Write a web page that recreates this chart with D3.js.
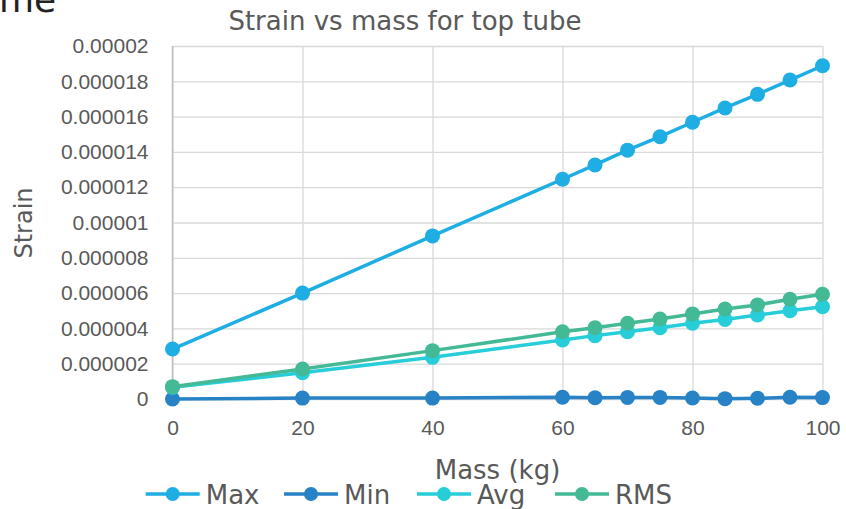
<!DOCTYPE html>
<html>
<head>
<meta charset="utf-8">
<script src="https://cdn.jsdelivr.net/npm/d3@7"></script>
<style>
  body { margin: 0; background: #fff; }
  svg { display: block; font-family: "DejaVu Sans", sans-serif; }
</style>
</head>
<body>
<div id="chart"></div>
<script>
// values
const mass = [0, 20, 40, 60, 65, 70, 75, 80, 85, 90, 95, 100];
const maxStrain = [2.83e-6, 6.0e-6, 9.24e-6, 12.45e-6, 13.26e-6, 14.1e-6, 14.86e-6, 15.68e-6, 16.49e-6, 17.26e-6, 18.07e-6, 18.88e-6];
const minStrain = [0, 0.05e-6, 0.05e-6, 0.1e-6, 0.07e-6, 0.09e-6, 0.09e-6, 0.06e-6, 0.02e-6, 0.04e-6, 0.1e-6, 0.08e-6];
const avgStrain = [0.66e-6, 1.49e-6, 2.36e-6, 3.34e-6, 3.59e-6, 3.81e-6, 4.04e-6, 4.29e-6, 4.51e-6, 4.76e-6, 5.0e-6, 5.23e-6];
const rmsStrain = [0.70e-6, 1.70e-6, 2.74e-6, 3.81e-6, 4.04e-6, 4.29e-6, 4.53e-6, 4.82e-6, 5.10e-6, 5.33e-6, 5.65e-6, 5.93e-6];

const seriesNames = ["Max", "Min", "Avg", "RMS"];
const seriesColors = ["#1eaee3", "#2782c6", "#27cdd9", "#43b995"];

const xTicks = [0, 20, 40, 60, 80, 100];
const yTicks = [0, 2e-6, 4e-6, 6e-6, 8e-6, 10e-6, 12e-6, 14e-6, 16e-6, 18e-6, 20e-6];
const yTickLabels = ["0", "0.000002", "0.000004", "0.000006", "0.000008", "0.00001",
  "0.000012", "0.000014", "0.000016", "0.000018", "0.00002"];

const width = 846, height = 509;
const plotLeft = 172.5, plotRight = 822.5, plotTop = 46, plotBottom = 399;
const textColor = "#595959";

const series = seriesNames.map((name, i) => ({
  name,
  color: seriesColors[i],
  values: [maxStrain, minStrain, avgStrain, rmsStrain][i].map((v, j) => ({x: mass[j], y: v}))
}));

const x = d3.scaleLinear().domain([0, 100]).range([plotLeft, plotRight]);
const y = d3.scaleLinear().domain([0, 2e-5]).range([plotBottom, plotTop]);

const svg = d3.select("#chart").append("svg")
    .attr("width", width)
    .attr("height", height);

// cut-off heading from the slide above
svg.append("text")
    .attr("x", -1)
    .attr("y", 12)
    .attr("fill", "#222")
    .style("font-size", "36px")
    .text("me");

// gridlines + y labels
svg.append("g")
    .attr("transform", `translate(${plotLeft},0)`)
    .call(d3.axisLeft(y).tickValues(yTicks)
      .tickFormat((d, i) => yTickLabels[i])
      .tickSize(-(plotRight - plotLeft)).tickPadding(24))
    .call(g => g.select(".domain").remove())
    .call(g => g.selectAll(".tick line").attr("stroke", "#d9d9d9").attr("stroke-width", 1.3))
    .call(g => g.selectAll(".tick text").attr("fill", textColor).style("font-size", "21px"));

// vertical gridlines + x labels
svg.append("g")
    .attr("transform", `translate(0,${plotBottom})`)
    .call(d3.axisBottom(x).tickValues(xTicks)
      .tickSize(-(plotBottom - plotTop)).tickPadding(21))
    .call(g => g.select(".domain").remove())
    .call(g => g.selectAll(".tick line").attr("stroke", "#d9d9d9").attr("stroke-width", 1.3))
    .call(g => g.selectAll(".tick text").attr("fill", textColor).style("font-size", "21px"));

// left axis line
svg.append("line")
    .attr("x1", plotLeft).attr("x2", plotLeft)
    .attr("y1", plotTop).attr("y2", plotBottom)
    .attr("stroke", "#bfbfbf")
    .attr("stroke-width", 1.5);

const line = d3.line().x(d => x(d.x)).y(d => y(d.y));

const sg = svg.selectAll("g.series")
  .data(series)
  .join("g")
    .attr("class", "series");

sg.append("path")
    .attr("d", d => line(d.values))
    .attr("fill", "none")
    .attr("stroke", d => d.color)
    .attr("stroke-width", 3.5)
    .attr("stroke-linejoin", "round");

sg.selectAll("circle")
  .data(d => d.values.map(v => ({...v, color: d.color})))
  .join("circle")
    .attr("cx", d => x(d.x))
    .attr("cy", d => y(d.y))
    .attr("r", 7.5)
    .attr("fill", d => d.color);

// titles
svg.append("text")
    .attr("x", 405)
    .attr("y", 30)
    .attr("text-anchor", "middle")
    .attr("fill", textColor)
    .style("font-size", "26px")
    .text("Strain vs mass for top tube");

svg.append("text")
    .attr("x", (plotLeft + plotRight) / 2)
    .attr("y", 479)
    .attr("text-anchor", "middle")
    .attr("fill", textColor)
    .style("font-size", "26px")
    .text("Mass (kg)");

svg.append("text")
    .attr("transform", "translate(32,223) rotate(-90)")
    .attr("text-anchor", "middle")
    .attr("fill", textColor)
    .style("font-size", "24px")
    .text("Strain");

// legend
const legendX = [145.7, 284, 417, 555];
const lg = svg.append("g")
  .selectAll("g")
  .data(series)
  .join("g")
    .attr("transform", (d, i) => `translate(${legendX[i]},494)`);

lg.append("line")
    .attr("x1", 0).attr("x2", 54)
    .attr("stroke", d => d.color)
    .attr("stroke-width", 3.5);

lg.append("circle")
    .attr("cx", 27)
    .attr("r", 7)
    .attr("fill", d => d.color);

lg.append("text")
    .attr("x", 60)
    .attr("y", 10)
    .attr("fill", textColor)
    .style("font-size", "26px")
    .text(d => d.name);
</script>
</body>
</html>
